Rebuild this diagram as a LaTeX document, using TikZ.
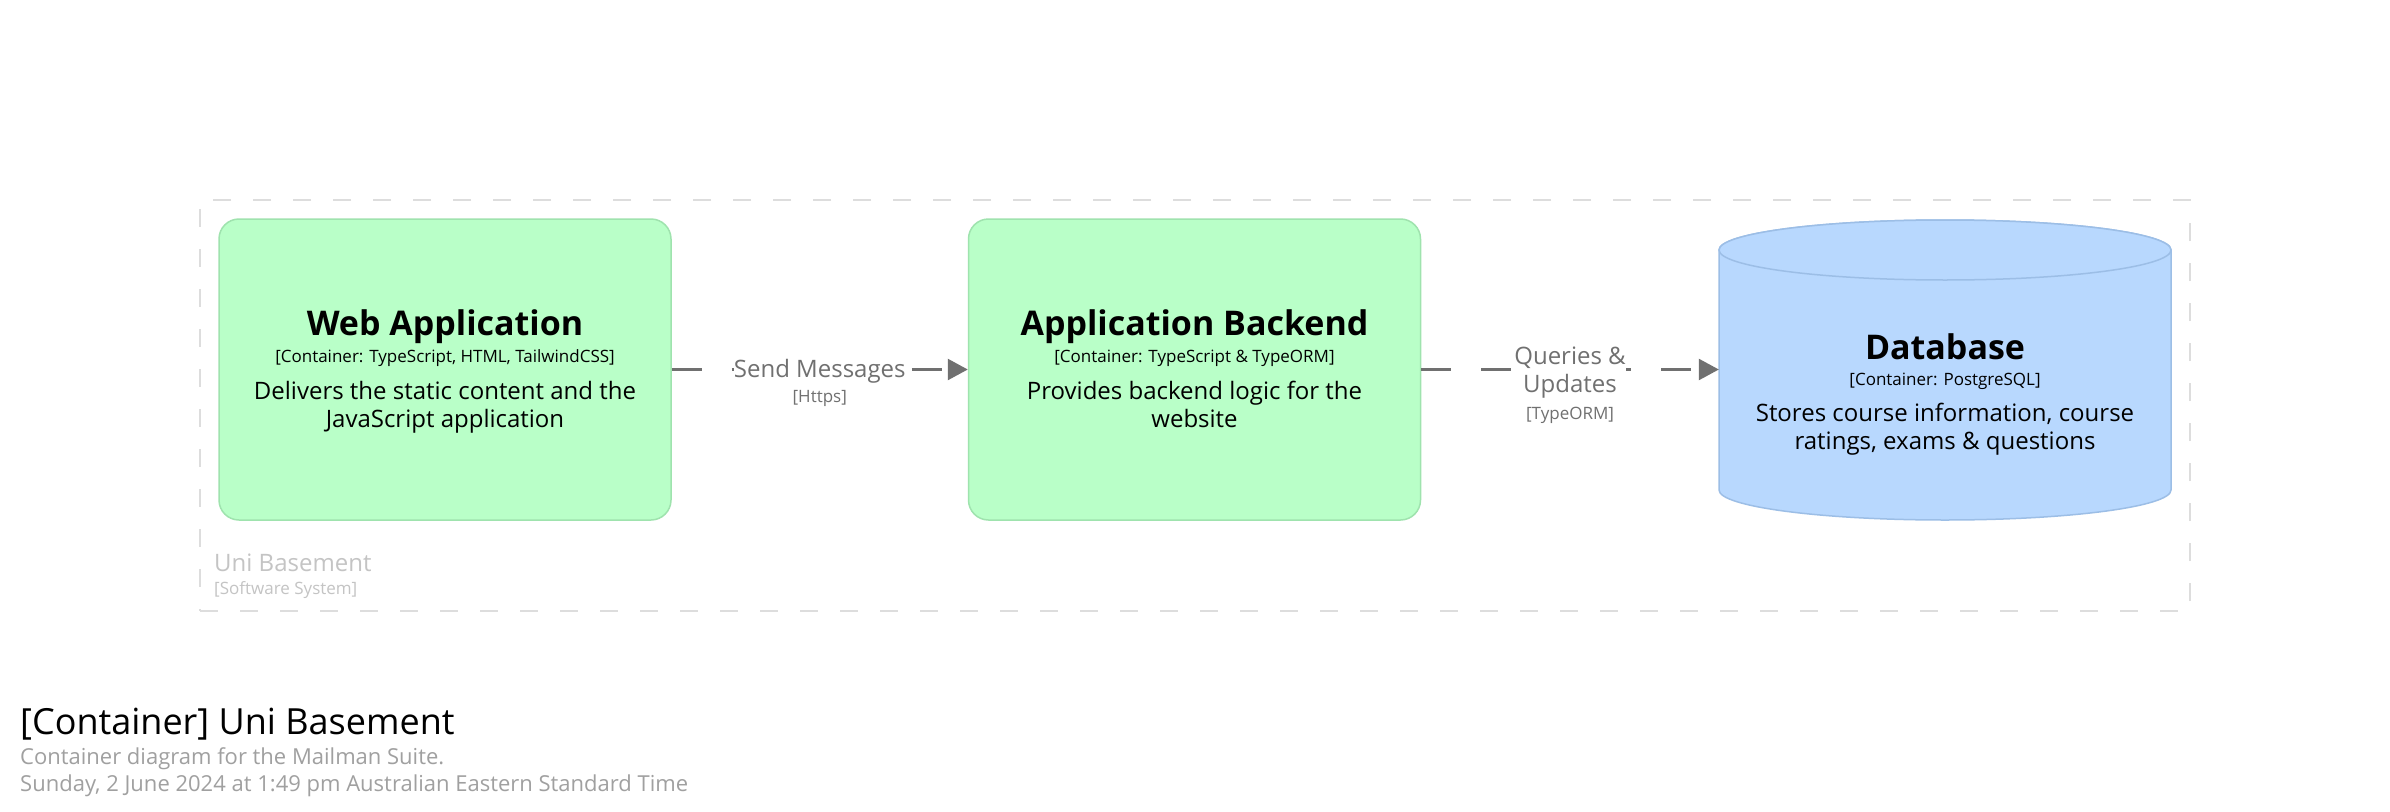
\documentclass[tikz,border=0pt]{standalone}
\usepackage{fontspec}
\setmainfont{Open Sans}
\usetikzlibrary{arrows.meta,calc}
\definecolor{elfill}{HTML}{B9FFC8}
\definecolor{elline}{HTML}{9FE3AE}
\definecolor{dbfill}{HTML}{B8D8FE}
\definecolor{dbline}{HTML}{9CBEE6}
\definecolor{relc}{HTML}{707070}
\definecolor{bnd}{HTML}{DDDDDD}
\definecolor{bndtxt}{HTML}{C4C4C4}
\definecolor{meta}{HTML}{A0A0A0}
\tikzset{
  elem/.style={draw=elline, fill=elfill, line width=1.5pt, rounded corners=20pt,
    minimum width=452pt, minimum height=301pt, inner sep=0},
  ghost/.style={minimum width=452pt, minimum height=301pt, inner sep=0},
  ttl/.style={font=\fontsize{34pt}{40pt}\selectfont\bfseries, inner sep=0},
  subt/.style={font=\fontsize{17pt}{20pt}\selectfont, inner sep=0},
  desc/.style={font=\fontsize{24pt}{28pt}\selectfont, align=center, inner sep=0},
  rel/.style={draw=relc, line width=2.5pt, dash pattern=on 30pt off 30pt,
    -{Triangle[length=20pt,width=21pt]}},
  rlab/.style={font=\fontsize{24pt}{28pt}\selectfont, text=relc, fill=white,
    align=center, inner sep=0},
  rtech/.style={font=\fontsize{17pt}{20pt}\selectfont, text=relc, inner sep=0},
  bndbox/.style={draw=bnd, line width=2pt, dash pattern=on 18pt off 22pt,
    minimum width=1990pt, minimum height=411pt, inner sep=0},
  lefttxt/.style={anchor=west, inner sep=0},
}
\begin{document}
\begin{tikzpicture}[x=1pt,y=-1pt]
\useasboundingbox (0,0) rectangle (2390,811);
\fill[white] (0,0) rectangle (2390,811);

% boundary
\node[bndbox] (sys) at (1195,405.5) {};
\node[lefttxt, text=bndtxt, font=\fontsize{24pt}{28pt}\selectfont] (sysT) at (214,563) {Uni Basement};
\node[lefttxt, text=bndtxt, font=\fontsize{17pt}{20pt}\selectfont] (sysS) at (214,590) {[Software System]};

% web application
\node[elem] (web) at (445,369.5) {};
\node[ttl] (webT) at (445,327) {Web Application};
\node[subt] (webS) at (445,358.5) {[Container: TypeScript, HTML, TailwindCSS]};
\node[desc] (webD) at (445,407) {Delivers the static content and the\\JavaScript application};

% backend
\node[elem] (back) at (1194.5,369.5) {};
\node[ttl] (backT) at (1194.5,327) {Application Backend};
\node[subt] (backS) at (1194.5,358.5) {[Container: TypeScript \& TypeORM]};
\node[desc] (backD) at (1194.5,404) {Provides backend logic for the\\website};

% database
\node[ghost] (db) at (1945,369.5) {};
\path[fill=dbfill, draw=dbline, line width=1.5pt]
  (1719,250) -- (1719,490) arc[start angle=180, end angle=360, x radius=226pt, y radius=30pt]
  -- (2171,250) arc[start angle=0, end angle=180, x radius=226pt, y radius=30pt] -- cycle;
\draw[fill=dbfill, draw=dbline, line width=1.5pt] (1945,250) ellipse[x radius=226pt, y radius=30pt];
\node[ttl] (dbT) at (1945,346.5) {Database};
\node[subt] (dbS) at (1945,381) {[Container: PostgreSQL]};
\node[desc] (dbD) at (1945,429) {Stores course information, course\\ratings, exams \& questions};

% relationships
\draw[rel] (web) -- (back);
\node[rlab] (r1) at ($(web.east)!0.5!(back.west)+(0,2)$) {Send Messages};
\node[rtech] (r1t) at ($(r1)+(0,27)$) {[Https]};
\draw[rel] (back) -- (db);
\node[rlab] (r2) at ($(back.east)!0.5!(db.west)+(0,3.5)$) {Queries \&\\Updates};
\node[rtech] (r2t) at ($(r2)+(0,42)$) {[TypeORM]};

% diagram title
\node[lefttxt, font=\fontsize{36pt}{42pt}\selectfont] (dT) at (20,724) {[Container] Uni Basement};
\node[lefttxt, text=meta, font=\fontsize{22pt}{26pt}\selectfont] (dD) at (20,759) {Container diagram for the Mailman Suite.};
\node[lefttxt, text=meta, font=\fontsize{22pt}{26pt}\selectfont] (dM) at (20,786) {Sunday, 2 June 2024 at 1:49 pm Australian Eastern Standard Time};
\end{tikzpicture}
\end{document}
